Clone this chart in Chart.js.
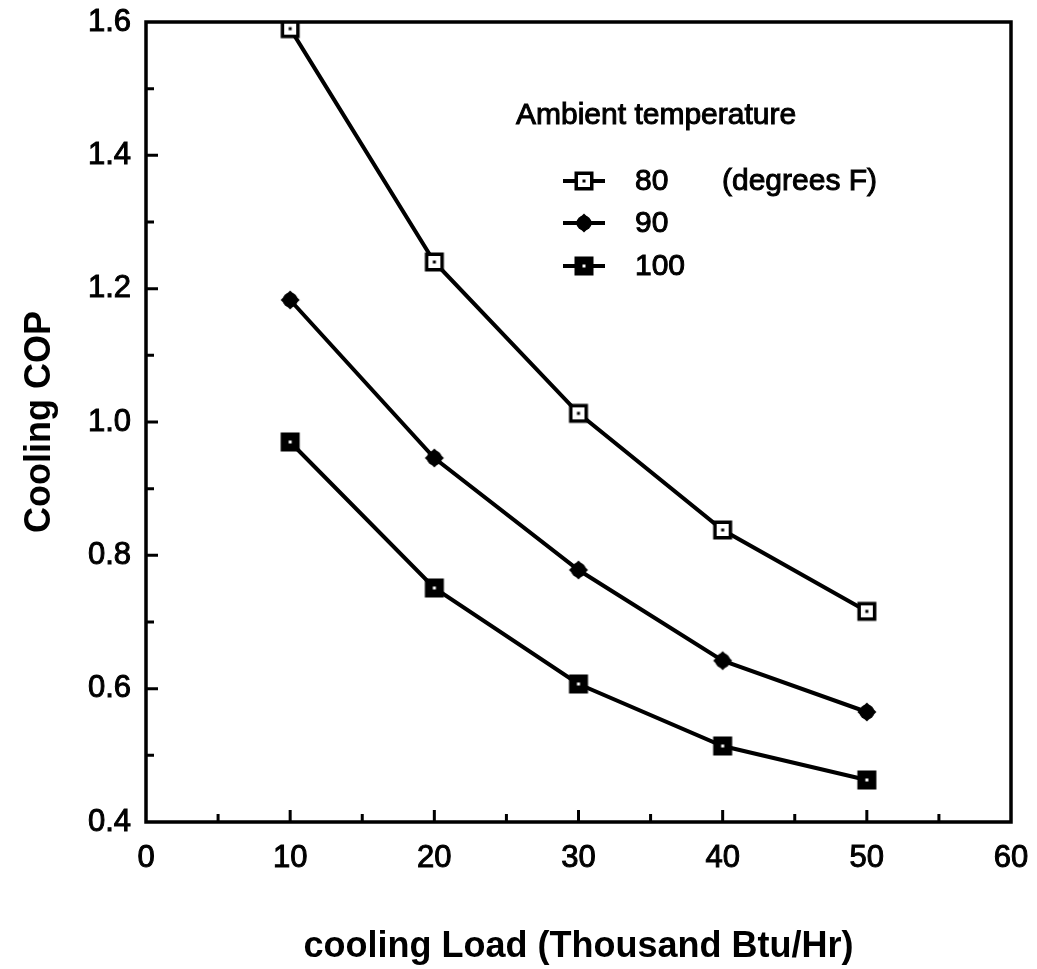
<!DOCTYPE html>
<html>
<head>
<meta charset="utf-8">
<script src="https://cdn.jsdelivr.net/npm/chart.js@4.4.1/dist/chart.umd.min.js"></script>
<style>
  html, body { margin: 0; padding: 0; background: #fff; }
  #wrap { width: 1037px; height: 969px; }
</style>
</head>
<body>
<div id="wrap"><canvas id="copChart" width="1037" height="969"></canvas></div>
<script>
// values
const loads = [10, 20, 30, 40, 50];
const cop80 = [1.59, 1.24, 1.013, 0.838, 0.716];
const cop90 = [1.183, 0.946, 0.778, 0.642, 0.565];
const cop100 = [0.97, 0.751, 0.607, 0.514, 0.463];
const seriesLabels = ["80", "90", "100"];
const legendTitle = "Ambient temperature";
const unitNote = "(degrees F)";
const xTicks = [0, 10, 20, 30, 40, 50, 60];
const yTicks = [0.4, 0.6, 0.8, 1.0, 1.2, 1.4, 1.6];

const FONT = "'Liberation Sans', Arial, Helvetica, sans-serif";

function makeMarker(kind) {
  const c = document.createElement("canvas");
  c.width = 22; c.height = 22;
  const g = c.getContext("2d");
  g.fillStyle = "#000";
  if (kind === "openSquare") {
    g.fillRect(1.5, 1.5, 19, 19);
    g.fillStyle = "#fff";
    g.fillRect(5, 5, 12, 12);
    g.fillStyle = "#000";
    g.fillRect(9.5, 9.5, 3, 3);
  } else if (kind === "diamond") {
    g.beginPath();
    g.moveTo(11, 1.5); g.lineTo(20.5, 11); g.lineTo(11, 20.5); g.lineTo(1.5, 11);
    g.closePath();
    g.fill();
    g.beginPath();
    g.arc(11, 11, 7.5, 0, Math.PI * 2);
    g.fill();
  } else {
    g.fillRect(1.5, 1.5, 19, 19);
    g.fillStyle = "#fff";
    g.fillRect(9.5, 9.5, 3, 3);
  }
  return c;
}

const markers = [makeMarker("openSquare"), makeMarker("diamond"), makeMarker("filledSquare")];

function toPoints(ys) {
  return loads.map((x, i) => ({ x: x, y: ys[i] }));
}

const boxAndTicks = {
  id: "boxAndTicks",
  afterDraw(chart) {
    const ctx = chart.ctx;
    const a = chart.chartArea;
    const xs = chart.scales.x, ys = chart.scales.y;
    ctx.save();
    ctx.strokeStyle = "#000";
    ctx.lineWidth = 3.5;
    ctx.strokeRect(a.left, a.top, a.right - a.left, a.bottom - a.top);
    ctx.lineWidth = 3;
    ctx.beginPath();
    // x ticks, major every 10, minor every 5
    for (let v = 5; v < 60; v += 5) {
      const px = xs.getPixelForValue(v);
      const len = v % 10 === 0 ? 12 : 8;
      ctx.moveTo(px, a.bottom);
      ctx.lineTo(px, a.bottom - len);
    }
    // y ticks, major every 0.2, minor every 0.1
    for (let k = 5; k < 16; k++) {
      const py = ys.getPixelForValue(k / 10);
      const len = k % 2 === 0 ? 12 : 8;
      ctx.moveTo(a.left, py);
      ctx.lineTo(a.left + len, py);
    }
    ctx.stroke();
    ctx.restore();
  }
};

const sideLegend = {
  id: "sideLegend",
  afterDraw(chart) {
    const ctx = chart.ctx;
    ctx.save();
    ctx.fillStyle = "#000";
    ctx.strokeStyle = "#000";
    ctx.font = "30px " + FONT;
    ctx.textBaseline = "middle";
    ctx.textAlign = "left";
    const txt = (s, x, y) => { ctx.lineWidth = 1; ctx.strokeText(s, x, y); ctx.fillText(s, x, y); };
    txt(legendTitle, 516, 116);
    const rows = [181, 223, 266];
    seriesLabels.forEach((lab, i) => {
      const y = rows[i];
      ctx.lineWidth = 4;
      ctx.beginPath();
      ctx.moveTo(563, y);
      ctx.lineTo(605, y);
      ctx.stroke();
      ctx.drawImage(markers[i], 584 - 11, y - 11);
      txt(lab, 635, y + 1);
      if (i === 0) txt(unitNote, 722, y + 1);
    });
    ctx.restore();
  }
};

const mkSet = (label, ys, i) => ({
  label: label,
  data: toPoints(ys),
  showLine: true,
  borderColor: "#000",
  borderWidth: 4,
  pointStyle: markers[i],
  pointRadius: 11,
  pointHoverRadius: 11
});

const noPad = s => { s.paddingTop = 0; s.paddingBottom = 0; s.paddingLeft = 0; s.paddingRight = 0; };

new Chart(document.getElementById("copChart").getContext("2d"), {
  type: "scatter",
  data: {
    datasets: [
      mkSet(seriesLabels[0], cop80, 0),
      mkSet(seriesLabels[1], cop90, 1),
      mkSet(seriesLabels[2], cop100, 2)
    ]
  },
  options: {
    responsive: false,
    animation: false,
    layout: { padding: { top: 22, right: 26, left: 0, bottom: 0 } },
    plugins: { legend: { display: false }, tooltip: { enabled: false } },
    scales: {
      x: {
        type: "linear",
        min: 0, max: 60,
        afterBuildTicks: s => { s.ticks = xTicks.map(v => ({ value: v })); },
        afterFit: s => { s.height = 147; noPad(s); },
        grid: { display: false, drawTicks: false },
        border: { display: false },
        ticks: {
          color: "#000", font: { family: FONT, size: 31 }, padding: 18, maxRotation: 0,
          textStrokeColor: "#000", textStrokeWidth: 1
        },
        title: {
          display: true,
          text: "cooling Load (Thousand Btu/Hr)",
          color: "#000",
          font: { family: FONT, size: 36, weight: "bold" },
          padding: { top: 22, bottom: 0 }
        }
      },
      y: {
        type: "linear",
        min: 0.4, max: 1.6,
        afterBuildTicks: s => { s.ticks = yTicks.map(v => ({ value: v })); },
        afterFit: s => { s.width = 146; noPad(s); },
        grid: { display: false, drawTicks: false },
        border: { display: false },
        ticks: {
          color: "#000",
          font: { family: FONT, size: 31 },
          padding: 15,
          textStrokeColor: "#000", textStrokeWidth: 1,
          callback: v => Number(v).toFixed(1)
        },
        title: {
          display: true,
          text: "Cooling COP",
          color: "#000",
          font: { family: FONT, size: 36, weight: "bold" },
          padding: { top: 18, bottom: 0 }
        }
      }
    }
  },
  plugins: [boxAndTicks, sideLegend]
});
</script>
</body>
</html>
